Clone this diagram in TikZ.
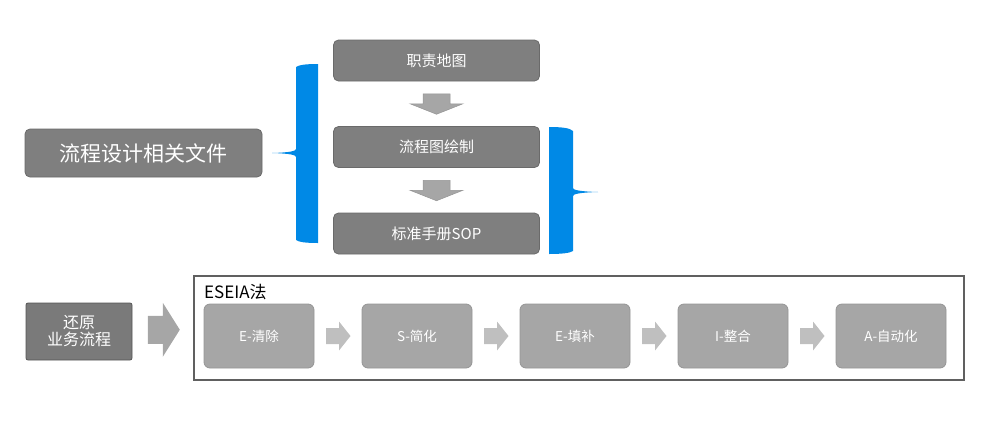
\documentclass[tikz,border=0pt]{standalone}
\usepackage{fontspec}
\newfontfamily\cjk{Noto Sans CJK SC}
\usetikzlibrary{calc}
\definecolor{boxgray}{HTML}{7F7F7F}
\definecolor{boxedge}{HTML}{6A6A6A}
\definecolor{restgray}{HTML}{7A7A7A}
\definecolor{restedge}{HTML}{555555}
\definecolor{stepfill}{HTML}{A6A6A6}
\definecolor{stepedge}{HTML}{959595}
\definecolor{arrowgray}{HTML}{A6A6A6}
\definecolor{lightarrow}{HTML}{BFBFBF}
\definecolor{bracecol}{RGB}{0,137,230}
\definecolor{framecol}{HTML}{606060}
\tikzset{
  docbox/.style={rectangle, rounded corners=5pt, fill=boxgray, draw=boxedge, line width=0.8pt,
    text=white, font=\cjk\fontsize{21}{25}\selectfont, minimum width=237pt, minimum height=48pt},
  topbox/.style={rectangle, rounded corners=5pt, fill=boxgray, draw=boxedge, line width=0.8pt,
    text=white, font=\cjk\fontsize{15}{18}\selectfont, minimum width=206pt, minimum height=41pt},
  restorebox/.style={rectangle, rounded corners=2pt, fill=restgray, draw=restedge, line width=0.8pt,
    text=white, align=center, font=\cjk\fontsize{16}{17}\selectfont, minimum width=106pt, minimum height=57pt},
  stepbox/.style={rectangle, rounded corners=6pt, fill=stepfill, draw=stepedge, line width=0.8pt,
    text=white, font=\cjk\fontsize{13.5}{16}\selectfont, minimum width=110pt, minimum height=64pt},
  methodframe/.style={rectangle, draw=framecol, line width=1.6pt, minimum width=770pt, minimum height=104pt},
  downarrow/.style={fill=arrowgray, draw=stepedge, line width=0.5pt},
  smallarrow/.style={fill=lightarrow},
  brace/.style={fill=bracecol}
}
\begin{document}
\begin{tikzpicture}[x=1pt, y=-1pt]
    \useasboundingbox (0,0) rectangle (994,424);
    \node[docbox] (doc) at (143.5,153) {流程设计相关文件};
    \node[topbox] (map) at (436.5,60.5) {职责地图};
    \node[topbox] (chart) at (436.5,147) {流程图绘制};
    \node[topbox] (sop) at (436.5,233.5) {标准手册SOP};
    \foreach \a/\b in {map/chart, chart/sop} {
        \coordinate (mid) at ($(\a.south)!0.5!(\b.north)$);
        \begin{scope}[shift={(mid)}]
            \draw[downarrow] (-13.5,-10) -- (13.5,-10) -- (13.5,0) -- (26.5,0) -- (0,10.5)
                -- (-26.5,0) -- (-13.5,0) -- cycle;
        \end{scope}
    }
    \fill[brace] (318,64) -- (318,243) .. controls (305,243) and (299,242) .. (296,240)
        -- (296,157) .. controls (296,155) and (290,153.5) .. (272,153)
        .. controls (290,152.5) and (296,151) .. (296,149)
        -- (296,67) .. controls (299,65) and (305,64) .. (318,64) -- cycle;
    \fill[brace] (549,127) .. controls (562,127) and (570,128) .. (573,131)
        -- (573,188) .. controls (573,190) and (580,191.5) .. (598,192)
        .. controls (580,192.5) and (573,194) .. (573,196)
        -- (573,251) .. controls (570,253) and (562,254) .. (549,254) -- cycle;
    \node[restorebox] (restore) at (79,331.5) {还原\\业务流程};
    \node[methodframe] (frame) at (579,328) {};
    \node[anchor=base west, inner sep=0pt, font=\cjk\fontsize{17}{20}\selectfont] (eseia) at (204,298) {ESEIA法};
    \foreach \i/\lbl in {1/E-清除, 2/S-简化, 3/E-填补, 4/I-整合, 5/A-自动化} {
        \pgfmathsetmacro{\xc}{259+158*(\i-1)}
        \node[stepbox] (s\i) at (\xc,336) {\lbl};
    }
    \coordinate (bigmid) at ($(restore.east)!0.5!(frame.west)$);
    \begin{scope}[shift={(bigmid)}]
        \fill[arrowgray] (-15,-14) -- (0,-14) -- (0,-27) -- (17,0) -- (0,27) -- (0,14) -- (-15,14) -- cycle;
    \end{scope}
    \foreach \i in {1,...,4} {
        \pgfmathtruncatemacro{\j}{\i+1}
        \coordinate (m\i) at ($(s\i.east)!0.5!(s\j.west)$);
        \begin{scope}[shift={(m\i)}]
            \fill[smallarrow] (-12,-8) -- (1,-8) -- (1,-14.5) -- (12.5,0) -- (1,14.5) -- (1,8) -- (-12,8) -- cycle;
        \end{scope}
    }
\end{tikzpicture}
\end{document}
